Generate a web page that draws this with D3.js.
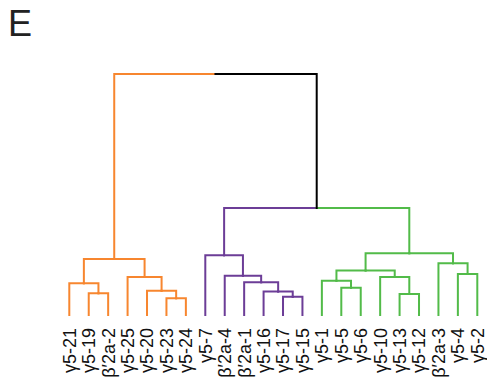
<!DOCTYPE html>
<html>
<head>
<meta charset="utf-8">
<script src="https://cdn.jsdelivr.net/npm/d3@7"></script>
<style>
  html, body { margin: 0; padding: 0; background: #fff; }
  svg { display: block; }
</style>
</head>
<body>
<svg id="chart" width="487" height="390"></svg>
<script>
// Leaf labels in dendrogram order
const leaves = [
  "γ5-21", "γ5-19", "β′2a-2", "γ5-25", "γ5-20", "γ5-23", "γ5-24",
  "γ5-7", "β′2a-4", "β′2a-1", "γ5-16", "γ5-17", "γ5-15",
  "γ5-1", "γ5-5", "γ5-6", "γ5-10", "γ5-13", "γ5-12", "β′2a-3", "γ5-4", "γ5-2"
];

// Cluster membership of each leaf
const leafCluster = [
  0, 0, 0, 0, 0, 0, 0,
  1, 1, 1, 1, 1, 1,
  2, 2, 2, 2, 2, 2, 2, 2, 2
];

// Linkage: [left id, right id, merge height]; ids >= leaves.length refer to earlier merges
const linkage = [
  [5, 6, 0.69],
  [11, 12, 0.76],
  [17, 18, 0.87],
  [1, 2, 0.90],
  [10, 23, 0.97],
  [4, 22, 1.01],
  [14, 15, 1.13],
  [0, 25, 1.32],
  [9, 26, 1.36],
  [13, 28, 1.42],
  [3, 27, 1.58],
  [16, 24, 1.58],
  [8, 30, 1.63],
  [20, 21, 1.70],
  [31, 33, 1.85],
  [19, 35, 2.15],
  [29, 32, 2.32],
  [7, 34, 2.48],
  [36, 37, 2.56],
  [39, 40, 4.44],
  [38, 41, 10.0]
];

const clusterColors = ["#f7862f", "#6c3d97", "#52bb49"];
const mixedColor = "#000000";

const svg = d3.select("#chart");

const x = d3.scalePoint().domain(d3.range(leaves.length)).range([69.3, 477.3]);
const y = d3.scaleLinear().domain([0, 10]).range([315, 74]);

// Build node list: leaves first, then merges
const nodes = leaves.map((name, i) => ({ id: i, x: x(i), h: 0, cluster: leafCluster[i] }));
linkage.forEach(([a, b, h], k) => {
  const na = nodes[a], nb = nodes[b];
  const node = {
    id: leaves.length + k,
    x: (na.x + nb.x) / 2,
    h: h,
    cluster: na.cluster === nb.cluster ? na.cluster : -1,
    children: [na, nb]
  };
  na.parent = node;
  nb.parent = node;
  nodes.push(node);
});

// Each node draws its vertical rise and half of its parent's crossbar
const g = svg.append("g");
nodes.filter(n => n.parent).forEach(n => {
  const p = n.parent;
  g.append("path")
    .attr("d", `M${n.x},${y(n.h)}V${y(p.h)}H${p.x}`)
    .attr("fill", "none")
    .attr("stroke", n.cluster >= 0 ? clusterColors[n.cluster] : mixedColor)
    .attr("stroke-width", 2)
    .attr("stroke-linecap", "square");
});

// Leaf labels, rotated
svg.append("g")
  .selectAll("text")
  .data(leaves)
  .join("text")
  .attr("transform", (d, i) => `translate(${x(i)},328) rotate(-90)`)
  .attr("text-anchor", "end")
  .attr("dy", "0.36em")
  .attr("font-family", "Liberation Sans, Arial, sans-serif")
  .attr("font-size", 18)
  .attr("fill", "#111")
  .text(d => d);

// Panel letter
svg.append("text")
  .attr("x", 8)
  .attr("y", 36)
  .attr("font-family", "Liberation Sans, Arial, sans-serif")
  .attr("font-size", 36)
  .attr("fill", "#222")
  .text("E");
</script>
</body>
</html>
